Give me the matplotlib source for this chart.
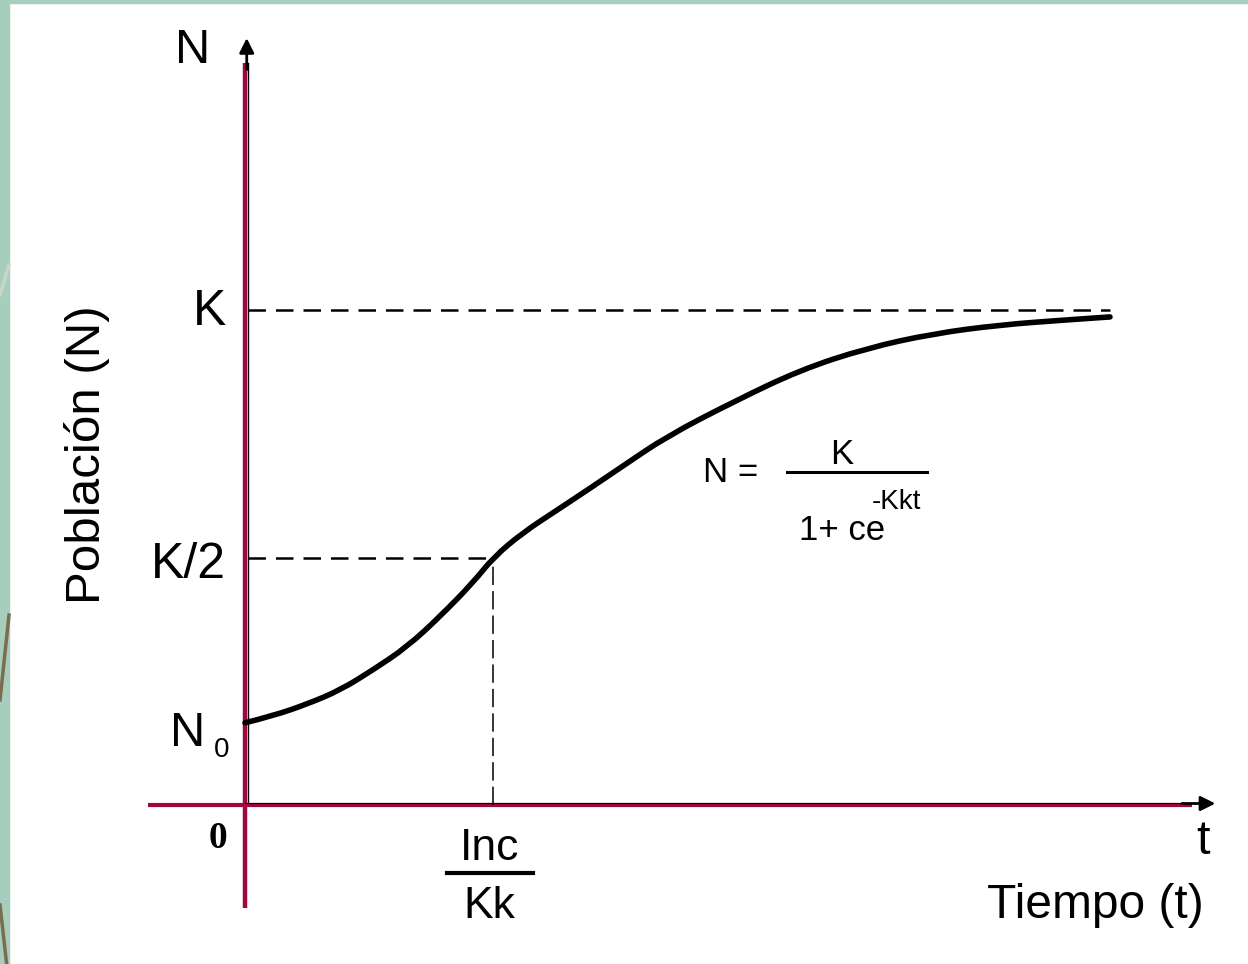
import matplotlib
matplotlib.use("Agg")
import matplotlib.pyplot as plt
from matplotlib.patches import Rectangle, PathPatch
from matplotlib.lines import Line2D
from matplotlib.path import Path

# logistic growth curve (K = 100)
K = 100.0
t_inflect = 2.87
t_end = 10.0
t_curve = [0.0, 0.32, 0.72, 1.10, 1.48, 1.87, 2.25, 2.64, 2.87, 3.21, 3.61,
           3.99, 4.37, 4.88, 5.64, 6.42, 7.19, 7.95, 8.73, 9.50, 10.0]
n_curve = [16.6, 18.0, 20.4, 23.2, 27.3, 31.9, 38.0, 45.0, 50.0, 55.0, 59.6,
           64.0, 68.5, 74.5, 81.4, 87.9, 92.3, 95.2, 97.0, 98.0, 98.6]

crimson = "#a0063f"
sage = "#a7cdbd"

plt.rcParams['font.family'] = ['Liberation Sans', 'DejaVu Sans']

fig = plt.figure(figsize=(12.48, 9.64), dpi=100)
fig.patch.set_facecolor("white")
# sage frame on the left and top, with the little brown strokes
fig.patches.append(Rectangle((0, 0), 9 / 1248, 1, transform=fig.transFigure, color=sage, zorder=0))
fig.patches.append(Rectangle((0, 1 - 3 / 964), 1, 3 / 964, transform=fig.transFigure, color=sage, zorder=0))
for (x0, y0, x1, y1, c) in [(0, 1 - 700 / 964, 9 / 1248, 1 - 615 / 964, "#7a6d50"),
                            (0, 1 - 905 / 964, 9 / 1248, 1 - 985 / 964, "#7a6d50"),
                            (0, 1 - 295 / 964, 9 / 1248, 1 - 265 / 964, "#c9d6c6")]:
    fig.lines.append(Line2D([x0, x1], [y0, y1], transform=fig.transFigure, color=c, lw=2.5))

ax = fig.add_axes([0, 0, 1, 1])
ax.set_xlim(-245 / 86.5, (1248 - 245) / 86.5)
ax.set_ylim((805 - 964) / 4.95, 805 / 4.95)
ax.axis("off")

# axes
ax.plot([0, 0], [-20.8, 150], color=crimson, lw=3.2, solid_capstyle="butt", zorder=2)
ax.plot([0.035, 0.035], [0, 150], color="black", lw=1.0, zorder=2)
ax.annotate("", xy=(0.02, 155.5), xytext=(0.02, 148),
            arrowprops=dict(arrowstyle="-|>", color="black", lw=2, mutation_scale=22))
ax.plot([-1.12, 10.95], [0, 0], color=crimson, lw=3.0, solid_capstyle="butt", zorder=2)
ax.plot([0, 10.95], [0.5, 0.5], color="black", lw=0.8, zorder=2)
ax.annotate("", xy=(11.25, 0.3), xytext=(10.8, 0.3),
            arrowprops=dict(arrowstyle="-|>", color="black", lw=2, mutation_scale=22))

# guide lines
ax.plot([0.03, t_end], [K, K], color="black", lw=1.8, ls=(0, (7, 4)))
ax.plot([0.03, t_inflect], [K / 2, K / 2], color="black", lw=1.8, ls=(0, (7, 4)))
ax.plot([t_inflect, t_inflect], [0, K / 2], color="black", lw=1.1, ls=(0, (12, 4)))

# curve: read points used as quadratic bezier controls so it is drawn smooth
pts = list(zip(t_curve, n_curve))
verts = [pts[0]]
codes = [Path.MOVETO]
for i in range(1, len(pts) - 1):
    mid = ((pts[i][0] + pts[i + 1][0]) / 2, (pts[i][1] + pts[i + 1][1]) / 2)
    verts += [pts[i], mid]
    codes += [Path.CURVE3, Path.CURVE3]
verts.append(pts[-1])
codes.append(Path.LINETO)
ax.add_patch(PathPatch(Path(verts, codes), facecolor="none", edgecolor="black",
                       lw=4.0, capstyle="round", joinstyle="round", zorder=3))

# labels
ax.text(-0.61, 152.5, "N", fontsize=35, ha="center", va="center")
ax.text(-0.22, K - 0.5, "K", fontsize=36, ha="right", va="center")
ax.text(-0.22, K / 2 - 1.5, "K/2", fontsize=36, ha="right", va="center")
ax.text(-0.46, 14.5, "N", fontsize=35, ha="right", va="center")
ax.text(-0.27, 11.2, "0", fontsize=20, ha="center", va="center")
ax.text(-0.31, -6.7, "0", fontsize=27, ha="center", va="center",
        family="Liberation Serif", fontweight="bold")
ax.text(t_inflect - 0.04, -8.8, "Inc", fontsize=32, ha="center", va="center")
ax.plot([2.34, 3.33], [-13.8, -13.8], color="black", lw=3)
ax.text(t_inflect - 0.04, -20.6, "Kk", fontsize=32, ha="center", va="center")
ax.text(11.08, -7.3, "t", fontsize=35, ha="center", va="center")
ax.text(9.83, -20.4, "Tiempo (t)", fontsize=34.5, ha="center", va="center")
ax.text(-1.83, 70.7, "Población (N)", fontsize=35.5, ha="center", va="center", rotation=90)

# formula
ax.text(5.29, 67.1, "N =", fontsize=25, ha="left", va="center")
ax.plot([6.27, 7.88], [67.3, 67.3], color="black", lw=2.2)
ax.text(6.90, 70.8, "K", fontsize=25, ha="center", va="center")
ax.text(6.90, 55.4, "1+ ce", fontsize=25, ha="center", va="center")
ax.text(7.24, 61.2, "-Kkt", fontsize=20, ha="left", va="center")

fig.savefig("out.png", dpi=100, facecolor=fig.get_facecolor())
